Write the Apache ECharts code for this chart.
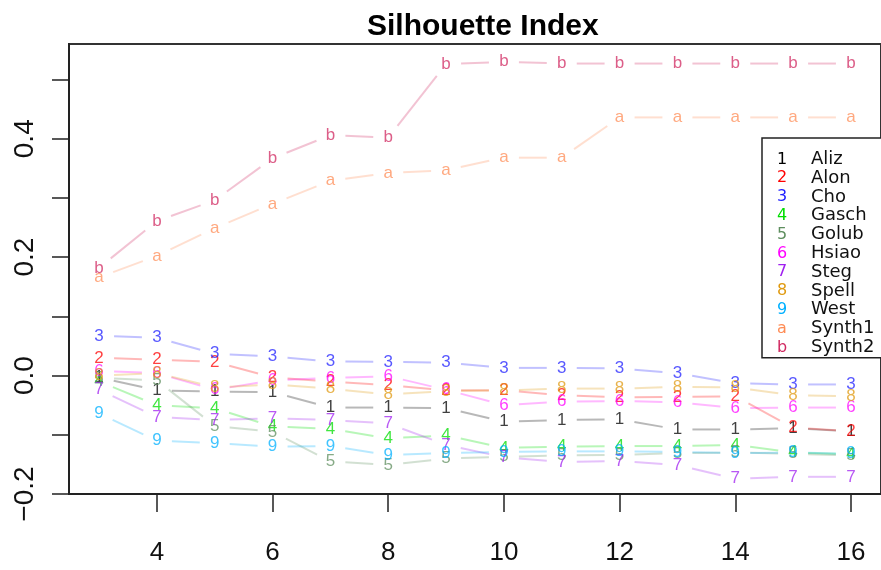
<!DOCTYPE html>
<html lang="en">
<head>
    <meta charset="UTF-8">
    <title>Silhouette Index</title>
    <script type="text/javascript" src="https://cdn.jsdelivr.net/npm/echarts@6/dist/echarts.min.js"></script>
    <style>
        html, body { margin: 0; padding: 0; background: #fff; }
        #container { width: 881px; height: 570px; }
    </style>
</head>
<body>
<div id="container"></div>
<script type="text/javascript">
    // number of clusters (x axis)
    var xs = [3, 4, 5, 6, 7, 8, 9, 10, 11, 12, 13, 14, 15, 16];

    // silhouette index per data set
    var aliz   = [-0.003, -0.025, -0.027, -0.028, -0.054, -0.054, -0.055, -0.078, -0.075, -0.074, -0.091, -0.091, -0.089, -0.094];
    var alon   = [ 0.030,  0.027,  0.023, -0.003, -0.010, -0.016, -0.025, -0.025, -0.033, -0.037, -0.036, -0.035, -0.088, -0.094];
    var cho    = [ 0.067,  0.064,  0.037,  0.032,  0.024,  0.023,  0.022,  0.013,  0.013,  0.012,  0.004, -0.013, -0.015, -0.015];
    var gasch  = [-0.010, -0.050, -0.055, -0.086, -0.090, -0.106, -0.101, -0.122, -0.120, -0.119, -0.119, -0.117, -0.130, -0.133];
    var golub  = [-0.004, -0.008, -0.085, -0.095, -0.145, -0.151, -0.140, -0.137, -0.135, -0.134, -0.131, -0.130, -0.132, -0.135];
    var hsiao  = [ 0.008,  0.004, -0.024, -0.008, -0.004, -0.001, -0.024, -0.050, -0.044, -0.043, -0.045, -0.055, -0.054, -0.054];
    var steg   = [-0.024, -0.070, -0.075, -0.072, -0.075, -0.081, -0.117, -0.138, -0.146, -0.144, -0.151, -0.174, -0.171, -0.171];
    var spell  = [ 0.000,  0.004, -0.020, -0.015, -0.022, -0.032, -0.026, -0.025, -0.022, -0.022, -0.019, -0.020, -0.033, -0.035];
    var west   = [-0.064, -0.110, -0.114, -0.120, -0.119, -0.134, -0.131, -0.129, -0.128, -0.128, -0.129, -0.131, -0.130, -0.132];
    var synth1 = [ 0.166,  0.202,  0.249,  0.290,  0.329,  0.342,  0.347,  0.368,  0.368,  0.436,  0.436,  0.436,  0.436,  0.436];
    var synth2 = [ 0.182,  0.261,  0.296,  0.367,  0.406,  0.402,  0.526,  0.530,  0.527,  0.527,  0.527,  0.527,  0.527,  0.527];

    var names = ['Aliz', 'Alon', 'Cho', 'Gasch', 'Golub', 'Hsiao', 'Steg', 'Spell', 'West', 'Synth1', 'Synth2'];
    var chars = ['1', '2', '3', '4', '5', '6', '7', '8', '9', 'a', 'b'];
    var values = [aliz, alon, cho, gasch, golub, hsiao, steg, spell, west, synth1, synth2];

    // ticks
    var xTicks = [4, 6, 8, 10, 12, 14, 16];
    var yTicks = [-0.2, -0.1, 0, 0.1, 0.2, 0.3, 0.4, 0.5];
    var yLabelValues = [-0.2, 0, 0.2, 0.4];
    var yLabelTexts = ['\u22120.2', '0.0', '0.2', '0.4'];

    var colors = ['#000000', '#ff0000', '#2020ff', '#00dd00', '#5e8e5e', '#ff00ff',
                  '#a020f0', '#e09a10', '#00b0ff', '#ff8c55', '#d02860'];

    var GAP = 15;  // gap between point char and line (type = "b")
    var sans = "'Liberation Sans', Arial, sans-serif";

    function makeSeries(k) {
        var vals = values[k];
        return {
            type: 'custom',
            name: names[k],
            itemStyle: { color: colors[k] },
            data: xs.map(function (x, i) { return [x, vals[i]]; }),
            encode: { x: 0, y: 1 },
            renderItem: function (params, api) {
                var i = params.dataIndex;
                var p = api.coord([api.value(0), api.value(1)]);
                var children = [];
                if (i < xs.length - 1) {
                    var q = api.coord([xs[i + 1], vals[i + 1]]);
                    var dx = q[0] - p[0], dy = q[1] - p[1];
                    var len = Math.sqrt(dx * dx + dy * dy);
                    if (len > 2 * GAP) {
                        children.push({
                            type: 'line',
                            shape: {
                                x1: p[0] + dx / len * GAP, y1: p[1] + dy / len * GAP,
                                x2: q[0] - dx / len * GAP, y2: q[1] - dy / len * GAP
                            },
                            style: { stroke: colors[k], lineWidth: 2, opacity: 0.28 }
                        });
                    }
                }
                children.push({
                    type: 'text',
                    x: p[0], y: p[1],
                    style: {
                        text: chars[k], fill: colors[k], opacity: 0.75,
                        font: '17px ' + sans,
                        align: 'center', verticalAlign: 'middle'
                    }
                });
                return { type: 'group', children: children };
            }
        };
    }

    var rich = {
        n: { color: '#111', fontFamily: 'DejaVu Sans', fontSize: 18, lineHeight: 18.8, padding: [0, 0, 0, 14] }
    };
    for (var k = 0; k < names.length; k++) {
        rich['s' + k] = { color: colors[k], fontFamily: 'DejaVu Sans', fontSize: 16, lineHeight: 18.8, width: 30, align: 'center' };
    }

    var dom = document.getElementById('container');
    var myChart = echarts.init(dom);
    var option = {
        animation: false,
        title: {
            text: 'Silhouette Index',
            left: 362,
            top: 7,
            textStyle: { fontFamily: sans, fontWeight: 'bold', fontSize: 30, color: '#000' }
        },
        legend: {
            orient: 'vertical',
            left: 762,
            top: 138,
            padding: [12, 12, 1, 0],
            itemGap: 0,
            itemWidth: 0,
            itemHeight: 0,
            backgroundColor: '#fff',
            borderColor: '#222',
            borderWidth: 1.5,
            data: names,
            formatter: function (name) {
                var idx = names.indexOf(name);
                return '{s' + idx + '|' + chars[idx] + '}{n|' + name + '}';
            },
            textStyle: { lineHeight: 18.8, rich: rich }
        },
        grid: {
            left: 69,
            right: -6,
            top: 44,
            bottom: 76,
            show: true,
            borderColor: '#333',
            borderWidth: 2
        },
        xAxis: {
            type: 'value',
            min: 2.48,
            max: 16.52,
            splitLine: { show: false },
            axisLine: { show: true, onZero: false, lineStyle: { color: '#222', width: 2 } },
            axisTick: { show: true, length: 18, customValues: xTicks, lineStyle: { color: '#222', width: 1.5 } },
            axisLabel: {
                customValues: xTicks,
                margin: 46,
                color: '#111',
                fontFamily: sans,
                fontSize: 26
            }
        },
        yAxis: {
            type: 'value',
            min: -0.2,
            max: 0.56,
            splitLine: { show: false },
            axisLine: { show: true, onZero: false, lineStyle: { color: '#222', width: 2 } },
            axisTick: { show: true, length: 17, customValues: yTicks, lineStyle: { color: '#222', width: 1.5 } },
            axisLabel: {
                customValues: yLabelValues,
                rotate: 90,
                margin: 30,
                color: '#111',
                fontFamily: sans,
                fontSize: 28,
                formatter: function (v) {
                    var idx = yLabelValues.findIndex(function (t) { return Math.abs(t - v) < 1e-9; });
                    return idx >= 0 ? yLabelTexts[idx] : '';
                }
            }
        },
        series: names.map(function (n, k) { return makeSeries(k); })
    };

    if (option && typeof option === 'object') {
        myChart.setOption(option);
    }
</script>
</body>
</html>
